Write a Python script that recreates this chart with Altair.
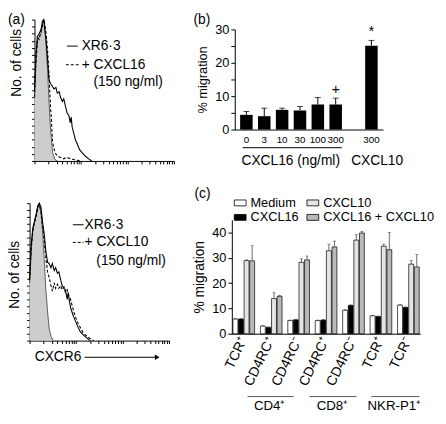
import math
import altair as alt
import pandas as pd

FONT = "Liberation Sans"
W, H = 438, 408

# ---------------- data ----------------
# (a) top : log10 CXCR6 fluorescence (decades) vs relative cell number
a1_iso_x = [0, 0.02, 0.04, 0.07, 0.10, 0.14, 0.18, 0.20, 0.225, 0.25, 0.28, 0.31, 0.34, 0.37, 0.39, 0.44, 0.49]
a1_iso_y = [0.45, 0.62, 0.78, 0.86, 0.88, 0.90, 0.98, 1.0, 0.95, 0.81, 0.65, 0.44, 0.25, 0.13, 0.06, 0.01, 0.0]
a1_xr_x = [0, 0.03, 0.06, 0.10, 0.14, 0.17, 0.20, 0.22, 0.25, 0.28, 0.31, 0.34, 0.38, 0.42, 0.46, 0.49, 0.53,
           0.56, 0.60, 0.63, 0.67, 0.70, 0.74, 0.77, 0.79, 0.81, 0.85, 0.88, 0.92, 0.97, 1.02, 1.09, 1.16, 1.23]
a1_xr_y = [0.50, 0.75, 0.88, 0.90, 0.93, 0.99, 1.0, 0.93, 0.85, 0.72, 0.58, 0.55, 0.53, 0.51, 0.52, 0.48, 0.49,
           0.45, 0.42, 0.44, 0.38, 0.34, 0.32, 0.27, 0.31, 0.24, 0.19, 0.15, 0.12, 0.08, 0.06, 0.035, 0.016, 0.0]
a1_tr_x = [0, 0.03, 0.07, 0.10, 0.14, 0.18, 0.20, 0.225, 0.25, 0.28, 0.31, 0.34, 0.37, 0.39, 0.44, 0.49,
           0.56, 0.63, 0.68, 0.74, 0.80, 0.85, 0.92, 0.99]
a1_tr_y = [0.45, 0.70, 0.87, 0.86, 0.92, 0.97, 1.0, 0.96, 0.90, 0.79, 0.62, 0.41, 0.25, 0.13, 0.06, 0.035,
           0.025, 0.015, 0.025, 0.02, 0.012, 0.01, 0.005, 0.0]

# (a) bottom
a2_iso_x = [0, 0.035, 0.07, 0.105, 0.14, 0.176, 0.21, 0.246, 0.28, 0.317, 0.35, 0.387, 0.42, 0.46, 0.51]
a2_iso_y = [0.42, 0.65, 0.81, 0.86, 0.91, 0.98, 1.0, 0.93, 0.79, 0.58, 0.37, 0.21, 0.09, 0.03, 0.0]
a2_xr_x = [0, 0.035, 0.07, 0.105, 0.14, 0.176, 0.21, 0.246, 0.28, 0.317, 0.35, 0.387, 0.42, 0.46, 0.49, 0.53,
           0.56, 0.60, 0.63, 0.67, 0.70, 0.74, 0.77, 0.81, 0.83, 0.86, 0.89, 0.94, 0.99, 1.04, 1.09, 1.16, 1.23, 1.30]
a2_xr_y = [0.45, 0.70, 0.82, 0.87, 0.92, 0.98, 1.0, 0.97, 0.86, 0.77, 0.65, 0.57, 0.56, 0.53, 0.56, 0.51,
           0.53, 0.49, 0.50, 0.44, 0.40, 0.38, 0.37, 0.30, 0.35, 0.28, 0.23, 0.18, 0.14, 0.10, 0.065, 0.04, 0.02, 0.0]
a2_tr_x = [0, 0.035, 0.07, 0.105, 0.14, 0.176, 0.21, 0.246, 0.28, 0.317, 0.35, 0.387, 0.42, 0.46, 0.49, 0.53,
           0.56, 0.60, 0.63, 0.67, 0.70, 0.74, 0.77, 0.81, 0.84, 0.88, 0.92, 0.96, 1.00, 1.05, 1.10, 1.15, 1.22, 1.30, 1.38]
a2_tr_y = [0.44, 0.68, 0.80, 0.86, 0.90, 0.96, 0.99, 0.93, 0.83, 0.72, 0.60, 0.50, 0.46, 0.40, 0.36, 0.42,
           0.38, 0.41, 0.38, 0.40, 0.37, 0.39, 0.35, 0.37, 0.33, 0.30, 0.25, 0.20, 0.16, 0.12, 0.09, 0.06, 0.035, 0.015, 0.0]

# (b)
b_domain = ["0", "3", "10", "30", "100", "300", " ", "300 "]
b_cats = ["0", "3", "10", "30", "100", "300", "300 "]
b_mean = [4.4, 4.0, 5.9, 5.7, 7.5, 7.5, 25.1]
b_err = [1.0, 2.4, 0.5, 1.2, 2.1, 1.9, 1.6]
b_sig = ["", "", "", "", "", "+", "*"]

# (c)
c_groups = ["a|TCR⁺", "b|CD4RC⁺", "c|CD4RC⁻", "d|CD4RC⁺", "e|CD4RC⁻", "f|TCR⁺", "g|TCR⁻"]
c_conds = ["Medium", "CXCL16", "CXCL10", "CXCL16 + CXCL10"]
c_legend_order = ["Medium", "CXCL10", "CXCL16", "CXCL16 + CXCL10"]
c_medium = [5.8, 3.0, 5.2, 5.2, 9.3, 7.1, 11.3]
c_cxcl16 = [5.8, 2.5, 5.5, 5.4, 11.2, 6.8, 10.4]
c_cxcl10 = [28.9, 13.9, 28.2, 32.8, 37.0, 34.6, 27.5]
c_both = [28.8, 14.8, 29.2, 34.3, 39.8, 33.2, 26.4]
c_medium_err = [0.3, 0.2, 0.2, 0.2, 0.2, 0.2, 0.2]
c_cxcl16_err = [0.2, 0.2, 0.2, 0.2, 0.2, 0.2, 0.2]
c_cxcl10_err = [0.3, 2.3, 1.4, 2.6, 2.1, 0.8, 1.4]
c_both_err = [6.0, 0.3, 1.5, 2.3, 0.6, 6.8, 4.9]

ONE = pd.DataFrame({"k": [0]})


def txt(s, x, y, size=13, align="left", baseline="middle", angle=0, **kw):
    return alt.Chart(ONE).mark_text(text=s, fontSize=size, align=align, baseline=baseline,
                                    angle=angle, font=FONT, fill="black", **kw).encode(
        x=alt.value(x), y=alt.value(y))


def hline(x1, x2, y, dash=None, color="black", width=1.0):
    kw = dict(color=color, strokeWidth=width)
    if dash:
        kw["strokeDash"] = dash
    return alt.Chart(ONE).mark_rule(**kw).encode(x=alt.value(x1), x2=alt.value(x2), y=alt.value(y))


LOG_TICKS = [math.log10(k * 10 ** d) for d in range(3) for k in range(1, 10)] + [3.0]
Y_TICKS = [i * 0.05 for i in range(21)]


def hist_panel(iso_x, iso_y, xr_x, xr_y, tr_x, tr_y, xr, yr):
    xs = alt.Scale(domain=[0, 3], range=xr, nice=False, zero=False)
    ys = alt.Scale(domain=[0, 1], range=yr, nice=False)
    X = alt.X("x:Q", scale=xs, axis=alt.Axis(orient="bottom", offset=yr[0] - H, values=LOG_TICKS,
                                             labels=False, tickSize=3, title=None))
    Y = alt.Y("y:Q", scale=ys, axis=alt.Axis(orient="left", offset=-xr[0], values=Y_TICKS,
                                             labels=False, tickSize=3, title=None))
    iso = pd.DataFrame({"x": iso_x, "y": iso_y})
    xrd = pd.DataFrame({"x": xr_x, "y": xr_y})
    trd = pd.DataFrame({"x": tr_x, "y": tr_y})
    area = alt.Chart(iso).mark_area(color="#cdcdcd").encode(x=X, y=Y)
    iso_line = alt.Chart(iso).mark_line(color="#222", strokeWidth=0.7).encode(x=X, y=Y)
    solid = alt.Chart(xrd).mark_line(color="black", strokeWidth=1.1).encode(x=X, y=Y)
    dashed = alt.Chart(trd).mark_line(color="black", strokeWidth=1.1, strokeDash=[3, 2]).encode(x=X, y=Y)
    return alt.layer(area, iso_line, solid, dashed)


a1 = hist_panel(a1_iso_x, a1_iso_y, a1_xr_x, a1_xr_y, a1_tr_x, a1_tr_y, [27, 169], [152, 8])
a2 = hist_panel(a2_iso_x, a2_iso_y, a2_xr_x, a2_xr_y, a2_tr_x, a2_tr_y, [22, 164], [335, 195])

# ---------------- panel b ----------------
bdf = pd.DataFrame({"cat": b_cats, "v": b_mean, "e": b_err, "sig": b_sig})
bdf["top"] = bdf["v"] + bdf["e"]
bxs = alt.Scale(domain=b_domain, range=[231, 382], paddingInner=0.3, paddingOuter=0.3)
bys = alt.Scale(domain=[0, 30], range=[120, 18], nice=False)
bX = alt.X("cat:N", scale=bxs, sort=b_domain,
           axis=alt.Axis(orient="bottom", offset=120 - H, tickSize=0, labelPadding=5, labelFontSize=10,
                         labelAngle=0, title=None))
bYaxis = alt.Axis(orient="left", offset=-231, values=list(range(0, 31, 5)),
                  labelExpr="datum.value % 10 == 0 ? datum.label : ''", tickSize=4, labelFontSize=13,
                  labelPadding=2, title="% migration", titleFontSize=13, titlePadding=5)
b_bars = alt.Chart(bdf).mark_bar(color="black").encode(x=bX, y=alt.Y("v:Q", scale=bys, axis=bYaxis))
b_err_r = alt.Chart(bdf).mark_rule(color="black", strokeWidth=1).encode(
    x=bX, y=alt.Y("v:Q", scale=bys, axis=bYaxis), y2="top:Q")
b_cap = alt.Chart(bdf).mark_tick(color="black", thickness=1, size=6).encode(
    x=bX, y=alt.Y("top:Q", scale=bys, axis=bYaxis))
b_txt = alt.Chart(bdf).mark_text(fontSize=14, dy=-8, font=FONT, fill="black").encode(
    x=bX, y=alt.Y("top:Q", scale=bys, axis=bYaxis), text="sig:N")
b = alt.layer(b_bars, b_err_r, b_cap, b_txt)

# ---------------- panel c ----------------
rows = []
for vals, errs, cond in [(c_medium, c_medium_err, "Medium"), (c_cxcl16, c_cxcl16_err, "CXCL16"),
                         (c_cxcl10, c_cxcl10_err, "CXCL10"), (c_both, c_both_err, "CXCL16 + CXCL10")]:
    for g, v, e in zip(c_groups, vals, errs):
        rows.append({"g": g, "cond": cond, "v": v, "top": v + e})
cdf = pd.DataFrame(rows)
cxs = alt.Scale(domain=c_groups, range=[228, 420], paddingInner=0.21, paddingOuter=0.04)
cys = alt.Scale(domain=[0, 45], range=[328, 212], nice=False)
cX = alt.X("g:N", scale=cxs, sort=c_groups,
           axis=alt.Axis(orient="bottom", offset=328 - H, labelExpr="split(datum.value, '|')[1]",
                         labelAngle=-64, labelAlign="right", labelBaseline="middle", tickSize=0,
                         labelPadding=4, labelFontSize=14, title=None))
cXO = alt.XOffset("cond:N", scale=alt.Scale(domain=c_conds, paddingInner=0.12))
cYaxis = alt.Axis(orient="left", offset=-228, values=[0, 10, 20, 30, 40], tickSize=4, labelFontSize=13,
                  labelPadding=2, title="% migration", titleFontSize=14, titlePadding=5)
c_fill = alt.Fill("cond:N", scale=alt.Scale(domain=c_legend_order,
                                            range=["#ffffff", "#e4e4e4", "#000000", "#b9b9b9"]),
                  legend=alt.Legend(orient="none", legendX=230, legendY=188, columns=2, direction="horizontal",
                                    title=None, padding=0, columnPadding=5, rowPadding=1,
                                    symbolType="M-1,-0.5H1V0.5H-1Z", symbolSize=144,
                                    symbolStrokeColor="black", symbolStrokeWidth=0.8,
                                    labelFontSize=13, labelFont=FONT, labelOffset=4, labelColor="black",
                                    labelLimit=200))
c_bars = alt.Chart(cdf).mark_bar(stroke="black", strokeWidth=0.7).encode(
    x=cX, xOffset=cXO, y=alt.Y("v:Q", scale=cys, axis=cYaxis), fill=c_fill)
c_err_r = alt.Chart(cdf).mark_rule(color="#444", strokeWidth=0.8).encode(
    x=cX, xOffset=cXO, y=alt.Y("v:Q", scale=cys, axis=cYaxis), y2="top:Q")
c_cap = alt.Chart(cdf).mark_tick(color="#444", thickness=0.8, size=3).encode(
    x=cX, xOffset=cXO, y=alt.Y("top:Q", scale=cys, axis=cYaxis))
c = alt.layer(c_bars, c_err_r, c_cap)

# ---------------- annotations ----------------
notes = [
    txt("(a)", 0, 8, size=14),
    txt("(b)", 189, 8, size=14),
    txt("(c)", 190, 186, size=14),
    txt("No. of cells", 9, 52, size=14, align="center", angle=270),
    txt("No. of cells", 7, 268, size=14, align="center", angle=270),
    hline(60, 71, 35), txt("XR6·3", 75, 35, size=14),
    hline(59, 74, 54, dash=[3, 2]), txt("+ CXCL16", 75, 54, size=14),
    txt("(150 ng/ml)", 87, 72, size=14),
    hline(66, 77, 217), txt("XR6·3", 78, 217, size=14),
    hline(66, 77, 235, dash=[3, 2]), txt("+ CXCL10", 78, 235, size=14),
    txt("(150 ng/ml)", 90, 254, size=14),
    txt("CXCR6", 51, 352, size=14, align="center"),
    hline(78, 150, 352),
    alt.Chart(ONE).mark_point(shape="triangle-right", filled=True, color="black", size=30, opacity=1).encode(
        x=alt.value(152), y=alt.value(352)),
    hline(239, 340, 138.5),
    txt("CXCL16 (ng/ml)", 288, 152, size=14, align="center"),
    txt("CXCL10", 376, 152, size=14, align="center"),
    hline(244, 291, 392, color="#555"), hline(307, 355, 392, color="#555"), hline(370, 419, 392, color="#555"),
    txt("CD4⁺", 266, 402, size=13.5, align="center"),
    txt("CD8⁺", 330, 402, size=13.5, align="center"),
    txt("NKR-P1⁺", 393, 402, size=13.5, align="center"),
]

chart = alt.layer(a1, a2, b, c, *notes).properties(
    width=W, height=H, autosize=alt.AutoSizeParams(type="none"), padding=0
).resolve_scale(
    x="independent", y="independent", fill="independent", xOffset="independent"
).resolve_axis(
    x="independent", y="independent"
).configure_view(stroke=None).configure_axis(
    grid=False, domainColor="black", tickColor="black", labelColor="black", titleColor="black",
    labelFont=FONT, titleFont=FONT, titleFontWeight="normal", domainWidth=1, tickWidth=1
)

chart.save("out.html", embed_options={"renderer": "svg", "actions": False})
